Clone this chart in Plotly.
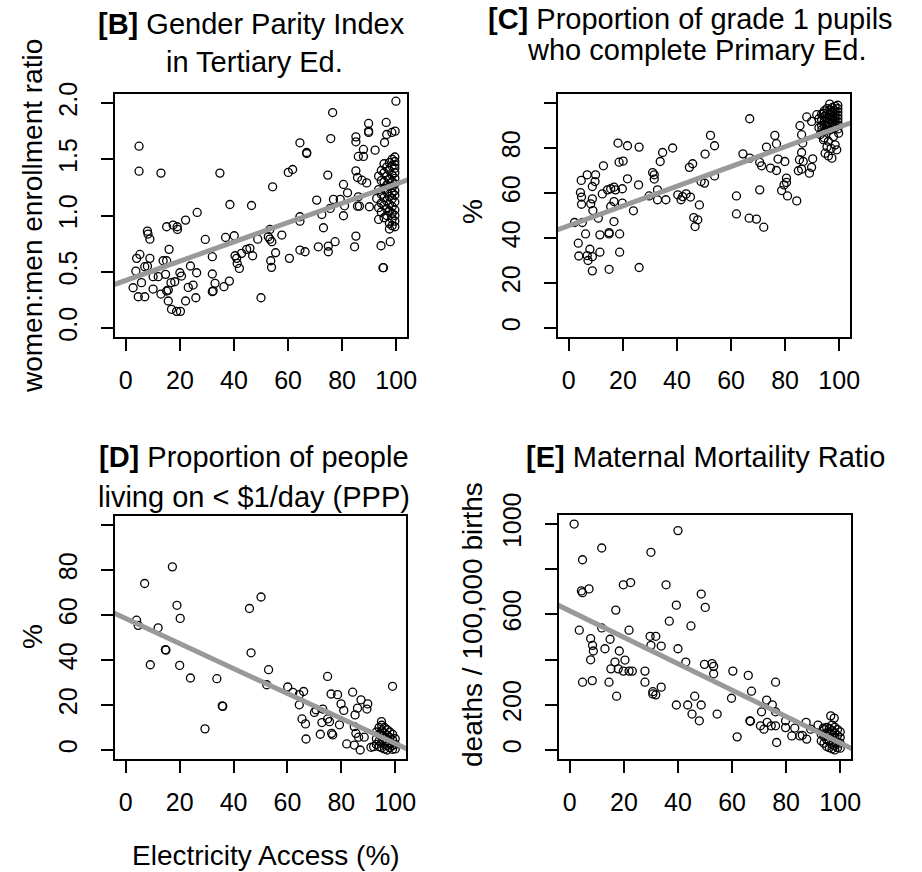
import plotly.graph_objects as go

W, H = 922, 872

# ---------------- DATA ----------------
x_ticks = [0, 20, 40, 60, 80, 100]
x_ticklabels = ["0", "20", "40", "60", "80", "100"]

# [B] Gender Parity Index in Tertiary Ed.
gpi_x = [4.9, 4.9, 13.0, 34.8, 8.0, 8.2, 8.9, 15.1, 17.5, 19.0, 19.1, 22.1, 26.4,
         4.0, 5.2, 3.7, 8.9, 7.0, 8.0, 10.1, 12.0, 13.8, 15.1, 16.0, 14.7,
         2.7, 5.8, 4.6, 7.0, 10.1, 13.0, 15.1, 15.7, 15.7, 16.7, 18.1,
         16.9, 18.8, 20.2, 20.0, 20.6, 22.1, 23.1, 24.9, 23.9, 26.2, 25.9,
         29.4, 32.0, 32.0, 33.0, 32.0, 32.3, 36.3, 38.3, 36.9, 38.5, 40.1,
         40.4, 41.0, 41.2, 42.0, 42.8, 44.7, 45.9, 46.9, 46.5, 50.0, 48.8, 52.7, 53.3, 54.0,
         53.3, 53.6, 53.9, 55.4, 57.7, 54.3, 60.1, 61.7, 60.5, 64.4, 66.9, 66.9,
         64.4, 64.4, 64.4, 66.3, 70.6, 71.2, 72.5, 73.1, 74.9, 74.9, 75.6, 76.8, 77.4,
         74.7, 75.8, 76.5, 79.3, 80.5, 82.0, 80.9, 80.5, 85.1, 85.1, 85.1, 85.7,
         86.0, 87.9, 87.9, 87.3, 89.1, 85.1, 84.6, 86.0, 85.7, 86.4, 89.8, 89.8, 89.8,
         92.2, 92.8, 90.1, 93.5, 94.4, 95.1, 95.3, 96.3, 96.5, 95.7, 98.4, 99.6, 99.9, 97.8,
         99.5, 99.5, 99.5, 99.5, 99.5, 99.5, 99.5, 99.5, 99.5, 99.5, 99.5, 99.5, 99.5, 99.5,
         98.5, 98.5, 98.5, 98.5, 98.5, 98.5, 98.5, 98.5, 98.5, 98.5, 98.5,
         97.5, 97.5, 97.5, 97.5, 97.5, 97.5, 97.5, 97.5, 97.5,
         96.5, 96.5, 96.5, 96.5, 96.5, 96.5, 96.5,
         95.5, 95.5, 95.5, 95.5, 95.5, 95.5, 95.5,
         94.5, 94.5, 94.5, 94.5, 94.5, 93.5, 93.5, 93.5]
gpi_y = [1.616, 1.394, 1.377, 1.377, 0.861, 0.835, 0.79, 0.90, 0.915, 0.90, 0.876, 0.959, 1.027,
         0.619, 0.654, 0.506, 0.619, 0.545, 0.55, 0.456, 0.456, 0.598, 0.598, 0.699, 0.477,
         0.358, 0.403, 0.278, 0.278, 0.346, 0.302, 0.329, 0.337, 0.24, 0.403, 0.411,
         0.166, 0.148, 0.148, 0.491, 0.462, 0.24, 0.361, 0.382, 0.551, 0.491, 0.269,
         0.787, 0.634, 0.48, 0.397, 0.323, 0.33, 0.367, 0.417, 0.805, 1.098, 0.82,
         0.642, 0.619, 0.574, 0.53, 0.663, 0.699, 0.708, 0.642, 1.089, 0.269, 0.79, 0.811, 0.79, 0.767,
         0.876, 0.598, 0.539, 0.669, 0.826, 1.255, 1.383, 1.409, 0.619, 1.646, 1.551, 1.56,
         0.989, 0.95, 0.693, 0.678, 1.137, 0.722, 1.009, 0.891, 0.728, 0.678, 1.063, 1.143, 0.767,
         1.359, 1.684, 1.915, 1.143, 1.276, 1.202, 1.086, 0.998, 1.699, 1.655, 1.397, 1.338,
         1.525, 1.525, 1.587, 1.314, 1.29, 0.817, 0.722, 1.166, 1.083, 1.083, 1.818, 1.75, 1.738,
         1.581, 1.152, 1.078, 0.965, 0.731, 0.536, 0.536, 1.827, 1.72, 1.649, 1.738, 1.75, 2.016, 0.767,
         1.52, 1.48, 1.45, 1.42, 1.38, 1.33, 1.28, 1.22, 1.18, 1.12, 1.05, 1.00, 0.95, 0.90,
         1.50, 1.44, 1.36, 1.30, 1.25, 1.20, 1.15, 1.08, 1.02, 0.97, 0.91,
         1.47, 1.40, 1.32, 1.26, 1.17, 1.10, 1.04, 0.93, 0.88,
         1.43, 1.35, 1.27, 1.21, 1.13, 1.06, 1.00,
         1.46, 1.38, 1.30, 1.24, 1.16, 1.09, 0.98,
         1.40, 1.31, 1.19, 1.11, 1.03, 1.35, 1.23, 1.07]
gpi_fit = (0.423, 0.00857)            # intercept, slope
gpi_yticks = [0.0, 0.5, 1.0, 1.5, 2.0]
gpi_yticklabels = ["0.0", "0.5", "1.0", "1.5", "2.0"]

# [C] Proportion of grade 1 pupils who complete Primary Ed.
comp_x = [18.2, 21.7, 26.0, 12.8, 18.6, 20.1, 4.6, 6.8, 9.9, 9.7, 8.7, 4.3, 4.7, 4.7,
          8.7, 8.1, 8.9, 12.4, 14.3, 15.5, 16.7, 17.3, 19.8, 21.7, 16.7, 15.5, 19.8, 25.8, 23.9,
          2.1, 5.0, 10.9, 6.2, 3.5, 11.5, 14.9, 14.9, 18.8, 16.7, 3.7, 6.8, 7.8, 8.7, 7.1, 11.5,
          18.8, 8.7, 14.9, 26.0,
          31.0, 31.6, 31.6, 33.8, 34.7, 38.4, 29.7, 32.8, 32.8, 35.9, 40.3, 41.5, 42.1, 43.4, 45.0,
          44.6, 45.8, 48.3, 46.2, 47.7, 46.7, 50.4, 52.4, 53.9, 48.9, 50.2, 53.9,
          62.0, 62.0, 66.7, 69.4, 72.1, 64.4, 66.9, 70.6, 71.3, 70.6, 66.9,
          73.1, 76.2, 76.8, 74.6, 76.8, 77.4, 79.9, 78.7, 79.6, 80.5, 80.9, 80.5, 84.3,
          85.5, 88.0, 86.1, 86.5, 86.1, 85.3, 86.7, 84.9, 86.1, 89.0, 89.8, 90.2, 89.8, 91.7, 94.2,
          94.2, 94.8, 96.0, 97.3, 98.5, 99.1, 97.9, 99.8, 93.6,
          99.5, 99.5, 99.5, 99.5, 99.5, 99.5, 99.5, 99.5,
          98.5, 98.5, 98.5, 98.5, 98.5, 98.5, 98.5,
          97.5, 97.5, 97.5, 97.5, 97.5, 97.5,
          96.5, 96.5, 96.5, 96.5, 96.5, 96.5,
          95.5, 95.5, 95.5, 95.5, 95.5,
          94.5, 94.5, 94.5, 94.5, 94.5, 93.5, 93.5, 93.5, 92.5, 92.5,
          93.0, 94.5, 96.0, 95.5, 97.0]
comp_y = [82.2, 81.0, 80.4, 72.1, 73.7, 74.2, 65.6, 68.1, 68.1, 65.1, 62.9, 60.2, 58.2, 55.0,
          57.4, 55.2, 52.2, 59.6, 61.4, 61.9, 62.6, 61.4, 61.9, 66.3, 56.2, 54.0, 55.5, 63.6, 52.1,
          46.9, 46.9, 48.8, 41.8, 37.7, 41.4, 42.4, 41.8, 41.8, 47.3, 32.0, 32.2, 35.0, 31.7, 30.0, 33.7,
          33.7, 25.4, 26.1, 26.9,
          69.1, 68.1, 66.2, 74.0, 78.0, 80.0, 58.7, 61.4, 57.0, 57.0, 59.2, 57.0, 58.4, 59.6, 58.2,
          71.4, 73.0, 54.7, 49.1, 48.1, 45.1, 77.3, 85.6, 81.0, 65.1, 64.4, 67.6,
          58.7, 50.7, 48.8, 48.4, 44.8, 77.4, 75.5, 73.6, 72.1, 61.4, 93.0,
          80.4, 85.6, 81.9, 71.1, 70.0, 75.1, 74.0, 61.1, 63.6, 64.7, 58.7, 66.6, 56.5,
          89.9, 93.8, 85.9, 82.2, 78.0, 74.8, 74.0, 69.9, 70.6, 68.8, 71.4, 75.2, 91.8, 94.8, 95.5,
          83.7, 77.7, 76.5, 75.5, 81.4, 79.2, 85.1, 86.6, 88.1,
          99.0, 97.5, 96.0, 94.5, 93.0, 91.5, 90.0, 88.5,
          98.5, 96.5, 95.0, 93.5, 92.0, 90.5, 89.0,
          98.0, 96.0, 94.0, 92.5, 91.0, 89.5,
          99.5, 97.0, 95.0, 93.0, 91.0, 88.0,
          97.5, 95.5, 93.5, 91.5, 89.5,
          96.5, 94.0, 92.0, 90.0, 87.5, 95.0, 92.5, 90.0, 93.0, 89.0,
          86.0, 84.5, 83.0, 80.5, 79.8]
comp_fit = (45.5, 0.438)
pct_yticks = [0, 20, 40, 60, 80, 100]
pct_yticklabels = ["0", "20", "40", "60", "80", ""]

# [D] Proportion of people living on < $1/day (PPP)
pov_x = [4.0, 4.6, 7.0, 9.1, 12.0, 14.7, 14.9, 17.3, 19.0, 20.2, 20.0, 24.0, 29.4, 33.8, 35.8, 36.0,
         45.9, 50.2, 46.5, 53.0, 52.3, 60.1, 62.0, 64.4, 66.0, 64.4, 65.4, 66.7, 66.9,
         70.0, 70.6, 73.1, 72.8, 74.9, 74.9, 75.6, 76.4, 76.8, 72.2, 76.2, 78.6, 79.9, 80.9, 79.3, 82.0,
         84.2, 87.3, 86.0, 85.1, 89.8, 89.5, 84.8, 85.4, 86.4, 84.8, 87.0, 88.5, 91.0, 99.0, 94.9,
         93, 93, 93, 94, 94, 94, 94, 95, 95, 95, 95, 95, 96, 96, 96, 96, 96,
         97, 97, 97, 97, 97, 98, 98, 98, 98, 99, 99, 99, 99, 100, 100, 100, 92]
pov_y = [57.7, 55.4, 74.0, 37.9, 54.3, 44.6, 44.4, 81.4, 64.3, 58.5, 37.6, 32.0, 9.4, 31.7, 19.6, 19.4,
         62.9, 68.0, 43.2, 35.7, 29.0, 28.0, 25.6, 24.6, 26.0, 20.1, 13.8, 11.6, 4.9,
         16.7, 17.9, 18.2, 12.2, 32.7, 13.8, 12.6, 7.4, 6.7, 7.0, 24.9, 24.6, 20.5, 17.6, 11.2, 2.7,
         25.7, 22.3, 18.6, 15.6, 20.5, 18.2, 10.4, 7.4, 5.7, 2.2, 0.0, 5.7, 1.2, 28.3, 12.6,
         8, 5, 2.5, 10, 7, 4, 1.5, 11, 8.5, 6, 3.5, 1, 10, 7.5, 5, 2.5, 0.5,
         9, 6.5, 4, 2, 0, 8, 5.5, 3, 1, 7, 4.5, 2, 0.3, 5, 2.5, 0.5, 1.5]
pov_fit = (58.4, -0.5555)

# [E] Maternal Mortaility Ratio
mmr_x = [1.6, 4.7, 4.3, 4.7, 7.1, 3.5, 4.7, 8.3, 7.7, 8.4, 8.7, 7.7, 11.8, 17.0, 11.8, 14.9, 13.0,
         18.3, 14.5, 17.3, 16.7, 15.2, 17.9, 20.4, 19.8, 21.9, 23.1, 19.8, 22.5, 21.9, 27.8, 27.8, 30.0,
         29.7, 31.8, 30.0, 33.8, 30.7, 31.8, 30.7, 33.8, 35.6, 36.8, 40.0, 39.4, 40.0, 42.9, 39.4,
         43.6, 45.2, 47.9, 46.2, 48.6, 44.8, 48.6, 50.1, 49.8, 52.6, 53.2, 53.2, 54.5, 60.3, 59.8, 61.9,
         66.0, 67.2, 66.6, 66.8, 70.9, 72.8, 74.9, 76.1, 76.1, 70.5, 71.8, 73.0, 74.5, 76.1, 76.5,
         79.8, 79.8, 83.2, 82.1, 85.1, 86.0, 87.6, 87.4, 89.1, 91.8, 93.8, 96.5, 97.8,
         94, 94, 94, 95, 95, 95, 95, 96, 96, 96, 96, 97, 97, 97, 97, 97,
         98, 98, 98, 98, 98, 99, 99, 99, 99, 100, 100, 100, 100, 93, 93]
mmr_y = [1000, 842, 704, 696, 713, 530, 300, 307, 493, 463, 438, 399, 894, 619, 540, 490, 448,
         438, 300, 238, 389, 359, 359, 398, 349, 349, 349, 731, 741, 530, 349, 300, 875,
         503, 503, 463, 460, 258, 244, 248, 278, 731, 570, 971, 641, 448, 389, 199,
         199, 159, 129, 238, 199, 549, 690, 631, 379, 382, 370, 337, 159, 349, 229, 58,
         330, 260, 129, 127, 169, 221, 200, 300, 169, 107, 92, 122, 107, 107, 33,
         129, 99, 97, 62, 62, 65, 48, 122, 92, 110, 97, 151, 141,
         90, 60, 30, 100, 75, 45, 15, 95, 70, 40, 10, 110, 85, 55, 25, 5,
         100, 75, 50, 20, 0, 90, 65, 35, 10, 80, 55, 30, 8, 70, 40]
mmr_fit = (615.6, -5.85)
mmr_yticks = [0, 200, 400, 600, 800, 1000]
mmr_yticklabels = ["0", "200", "", "600", "", "1000"]

# ---------------- LAYOUT HELPERS ----------------
FONT = "Liberation Sans, Arial, Helvetica, sans-serif"


def px_x(p):
    return p / W


def px_y(p):
    return 1 - p / H


X_RANGE = [-4, 104]
panels = [
    # name, x, y, fit, box px (left, right, top, bottom), y range, yticks, ylabels
    ("1", gpi_x, gpi_y, gpi_fit, (115, 407, 94, 337), [-0.08, 2.08], gpi_yticks, gpi_yticklabels),
    ("2", comp_x, comp_y, comp_fit, (558, 850, 94, 337), [-4, 104], pct_yticks, pct_yticklabels),
    ("3", pov_x, pov_y, pov_fit, (115, 406, 516, 759), [-4, 104], pct_yticks, pct_yticklabels),
    ("4", mmr_x, mmr_y, mmr_fit, (559, 851, 515, 759), [-40, 1040], mmr_yticks, mmr_yticklabels),
]

fig = go.Figure()
layout_axes = {}
for name, xs, ys, fit, box, yr, yt, ytl in panels:
    xa = "x" if name == "1" else "x" + name
    ya = "y" if name == "1" else "y" + name
    fig.add_trace(go.Scatter(
        x=xs, y=ys, mode="markers", xaxis=xa, yaxis=ya, showlegend=False,
        marker=dict(symbol="circle-open", size=8, color="black", line=dict(width=1.3)),
        hoverinfo="x+y"))
    a, b = fit
    lx = [X_RANGE[0] - 2, X_RANGE[1] + 2]
    fig.add_trace(go.Scatter(
        x=lx, y=[a + b * v for v in lx], mode="lines", xaxis=xa, yaxis=ya,
        showlegend=False, line=dict(color="#999999", width=5), hoverinfo="skip"))
    left, right, top, bottom = box
    common = dict(showline=True, linecolor="black", linewidth=1.5, mirror=True,
                  ticks="outside", ticklen=12, tickwidth=1.5, tickcolor="black",
                  showgrid=False, zeroline=False, automargin=False,
                  tickfont=dict(family=FONT, size=25, color="black"))
    layout_axes["xaxis" if name == "1" else "xaxis" + name] = dict(
        domain=[px_x(left), px_x(right)], range=X_RANGE, anchor=ya,
        tickvals=x_ticks, ticktext=x_ticklabels, ticklabelstandoff=8, **common)
    layout_axes["yaxis" if name == "1" else "yaxis" + name] = dict(
        domain=[px_y(bottom), px_y(top)], range=yr, anchor=xa,
        tickvals=yt, ticktext=ytl, tickangle=-90, ticklabelstandoff=14, **common)

fig.update_layout(template="none", **layout_axes)

TF = dict(family=FONT, size=29, color="black")
AF = dict(family=FONT, size=28, color="black")


def text(s, x, y, font, angle=0):
    fig.add_annotation(text=s, x=px_x(x), y=px_y(y), xref="paper", yref="paper",
                       showarrow=False, xanchor="center", yanchor="middle",
                       textangle=angle, font=font)


# titles
text("<b>[B]</b> Gender Parity Index", 252, 24, TF)
text("in Tertiary Ed.", 254, 62, TF)
text("<b>[C]</b> Proportion of grade 1 pupils", 690, 19, TF)
text("who complete Primary Ed.", 696, 50, TF)
text("<b>[D]</b> Proportion of people", 254, 457, TF)
text("living on &lt; $1/day (PPP)", 254, 497, TF)
text("<b>[E]</b> Maternal Mortaility Ratio", 705, 457, TF)

# axis labels
text("women:men enrollment ratio", 32, 216, AF, -90)
text("%", 472, 212, AF, -90)
text("%", 32, 637, AF, -90)
text("deaths / 100,000 births", 472, 625, AF, -90)
text("Electricity Access (%)", 266, 855, AF)

fig.update_layout(width=W, height=H, margin=dict(l=0, r=0, t=0, b=0, pad=0),
                  paper_bgcolor="white", plot_bgcolor="white",
                  font=dict(family=FONT, color="black"))

fig.write_html("out.html")
